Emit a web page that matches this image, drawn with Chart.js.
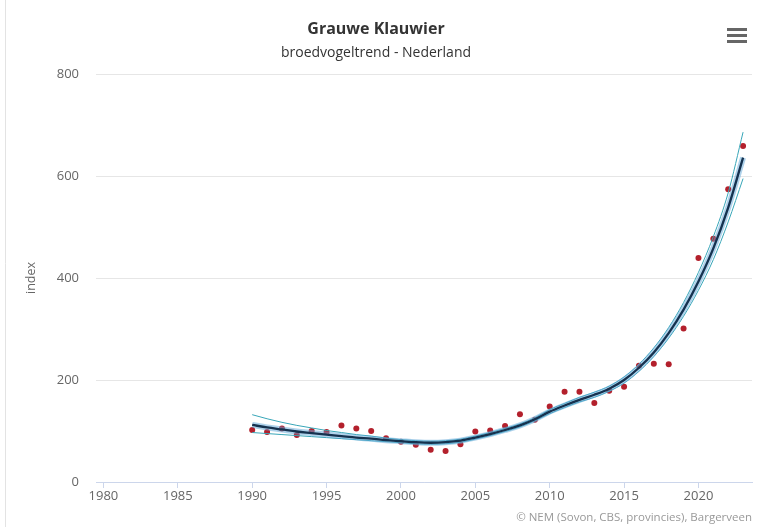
<!DOCTYPE html>
<html lang="nl">
<head>
    <meta charset="UTF-8">
    <title>Grauwe Klauwier</title>
    <script src="https://cdn.jsdelivr.net/npm/chart.js"></script>
    <style>
        html, body { margin: 0; padding: 0; background: #fff; }
        #wrap { width: 758px; height: 527px; }
    </style>
</head>
<body>
    <div id="wrap"><canvas id="trendChart" width="758" height="527"></canvas></div>

    <script>
        const years = [1990, 1991, 1992, 1993, 1994, 1995, 1996, 1997, 1998, 1999,
                       2000, 2001, 2002, 2003, 2004, 2005, 2006, 2007, 2008, 2009,
                       2010, 2011, 2012, 2013, 2014, 2015, 2016, 2017, 2018, 2019,
                       2020, 2021, 2022, 2023];
        const observed = [102, 98, 105, 92, 100, 98, 111, 105, 100, 86,
                          79, 73, 63, 61, 74, 99, 101, 110, 133, 122,
                          148, 177, 177, 155, 179, 187, 228, 232, 231, 301,
                          439, 477, 574, 659];
        const trend = [112, 107, 103, 99, 96, 93, 90, 87, 85, 82,
                       80, 78, 77, 78, 81, 87, 94, 102, 111, 123,
                       138, 150, 161, 171, 183, 200, 224, 254, 292, 338,
                       393, 458, 538, 636];
        const upper = [132, 124, 117, 111, 106, 101, 97, 93, 90, 86,
                       83, 81, 80, 81, 84, 90, 97, 105, 114, 126,
                       142, 154, 166, 176, 188, 206, 231, 263, 303, 352,
                       411, 481, 567, 686];
        const lower = [97, 95, 93, 91, 89, 87, 85, 83, 81, 79,
                       77, 75, 74, 75, 78, 84, 91, 99, 108, 120,
                       134, 146, 157, 166, 178, 194, 217, 246, 282, 325,
                       376, 436, 510, 595];

        const font = 'Open Sans';
        const toXY = vals => years.map((y, i) => ({x: y, y: vals[i]}));

        const lineStyle = (color, width) => ({
            borderColor: color,
            borderWidth: width,
            pointRadius: 0,
            fill: false,
            cubicInterpolationMode: 'monotone'
        });

        const extras = {
            id: 'extras',
            afterDraw(chart) {
                const ctx = chart.ctx;
                ctx.save();
                // left frame line
                ctx.strokeStyle = '#e3e3e3';
                ctx.lineWidth = 1;
                ctx.beginPath();
                ctx.moveTo(5.5, 0);
                ctx.lineTo(5.5, 527);
                ctx.stroke();
                // menu button
                ctx.fillStyle = '#666';
                [28, 34, 40].forEach(y => ctx.fillRect(727, y, 20, 3));
                // credits
                ctx.font = '11.5px "' + font + '"';
                ctx.fillStyle = '#999';
                ctx.textAlign = 'right';
                ctx.textBaseline = 'middle';
                ctx.fillText('© NEM (Sovon, CBS, provincies), Bargerveen', 752, 518);
                ctx.restore();
            }
        };

        new Chart(document.getElementById('trendChart'), {
            type: 'line',
            data: {
                datasets: [
                    Object.assign({label: 'trend', data: toXY(trend)}, lineStyle('#15324f', 2.3)),
                    Object.assign({label: 'halo', data: toXY(trend)}, lineStyle('rgba(95,165,215,0.5)', 6)),
                    Object.assign({label: 'boven', data: toXY(upper)}, lineStyle('#38a6b8', 1)),
                    Object.assign({label: 'onder', data: toXY(lower)}, lineStyle('#38a6b8', 1)),
                    {
                        label: 'index',
                        data: toXY(observed),
                        showLine: false,
                        pointRadius: 3,
                        pointBackgroundColor: '#b3202c',
                        pointBorderWidth: 0
                    }
                ]
            },
            options: {
                responsive: false,
                animation: false,
                layout: { padding: { left: 0, right: 6, top: 0, bottom: 0 } },
                plugins: {
                    legend: { display: false },
                    tooltip: { enabled: false },
                    title: {
                        display: true,
                        text: 'Grauwe Klauwier',
                        color: '#333',
                        font: { family: font, size: 16, weight: 'bold' },
                        padding: { top: 20, bottom: 5 }
                    },
                    subtitle: {
                        display: true,
                        text: 'broedvogeltrend - Nederland',
                        color: '#333',
                        font: { family: font, size: 14 },
                        padding: { top: 0.5, bottom: 12.5 }
                    }
                },
                scales: {
                    x: {
                        type: 'linear',
                        min: 1979.5,
                        max: 2023.6,
                        afterFit: scale => { scale.height = 45; },
                        border: { color: '#ccd6eb' },
                        grid: { drawOnChartArea: false, drawTicks: true, tickLength: 6, color: '#ccd6eb' },
                        ticks: {
                            stepSize: 5,
                            includeBounds: false,
                            padding: 0,
                            color: '#666',
                            font: { family: font, size: 13 },
                            callback: v => String(v)
                        }
                    },
                    y: {
                        min: 0,
                        max: 800,
                        afterFit: scale => { scale.width = 96; },
                        border: { display: false },
                        grid: { color: '#e6e6e6', drawTicks: false },
                        ticks: {
                            stepSize: 200,
                            padding: 17,
                            color: '#666',
                            font: { family: font, size: 13 }
                        },
                        title: {
                            display: true,
                            text: 'index',
                            color: '#666',
                            font: { family: font, size: 12.5 },
                            padding: { top: 24, bottom: 0 }
                        }
                    }
                }
            },
            plugins: [extras]
        });
    </script>
</body>
</html>
